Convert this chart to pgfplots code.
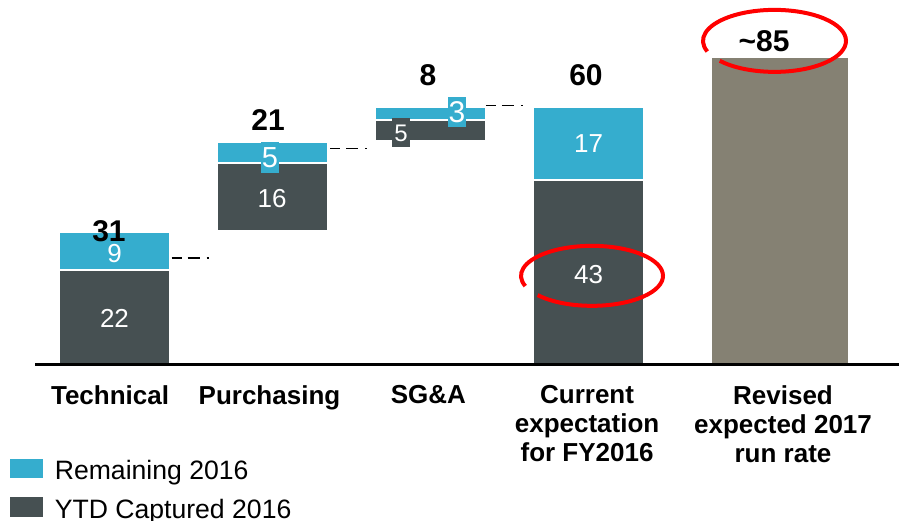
\documentclass[border=0pt]{standalone}
\usepackage{fontspec}
\setmainfont{Liberation Sans}
\usepackage{pgfplots}
\pgfplotsset{compat=1.18}
\definecolor{cblue}{HTML}{35ADCE}
\definecolor{cdark}{HTML}{465052}
\definecolor{ctaupe}{HTML}{858173}
\definecolor{cred}{HTML}{FF0000}
\begin{document}
\begin{tikzpicture}
\begin{axis}[
  axis on top,
  scale only axis, width=432pt, height=182pt,
  xmin=-0.503, xmax=4.965, ymin=0, ymax=85.05,
  ybar stacked, bar width=0.7025,
  axis x line*=bottom, axis y line=none,
  x axis line style={-, line width=1.5pt, black},
  clip=false,
  xtick={-0.028,0.981,1.987,2.991,4.231},
  xticklabels={Technical,Purchasing,SG\&A,{Current\\expectation\\for FY2016},{Revised\\expected 2017\\run rate}},
  major tick length=0pt,
  xticklabel style={font=\fontsize{13}{14.5}\selectfont\bfseries, align=center, anchor=north, inner sep=0pt, yshift=-10.5pt},
  ytick=\empty,
  legend style={at={(axis description cs:-0.0324,-0.2527)}, anchor=north west, draw=none, fill=none, inner sep=0pt,
    font=\fontsize{13.3}{15}\selectfont, row sep=4pt,
    /tikz/every even column/.append style={column sep=8.5pt}},
  legend cell align=left,
  reverse legend,
  legend image code/.code={\fill[#1] (0pt,-4pt) rectangle (18pt,7pt); \path (20.5pt,0pt);},
]
% invisible offsets
\addplot[draw=none, fill=none, forget plot] coordinates {(0,0) (1,31) (2,52) (3,0) (4.212,0)};
% YTD captured
\addplot[fill=cdark, draw=white, line width=1.2pt] coordinates {(0,22) (1,16) (2,5) (3,43) (4.212,0)};
% Remaining
\addplot[fill=cblue, draw=white, line width=1.2pt] coordinates {(0,9) (1,5) (2,3) (3,17) (4.212,0)};
% Revised run rate
\addplot[fill=ctaupe, draw=none, bar width=0.861, forget plot] coordinates {(0,0) (1,0) (2,0) (3,0) (4.212,71.5)};
\legend{YTD Captured 2016,Remaining 2016}

% connectors
\addplot[forget plot, sharp plot, black, line width=0.75pt, dash pattern=on 5pt off 3pt on 6pt off 3.5pt on 1pt, stack plots=false] coordinates {(0.362,24.8) (0.615,24.8)};
\addplot[forget plot, sharp plot, black, line width=0.75pt, dash pattern=on 5pt off 3pt on 6pt off 3.5pt on 1pt, stack plots=false] coordinates {(1.364,50.4) (1.634,50.4)};
\addplot[forget plot, sharp plot, black, line width=0.75pt, dash pattern=on 5pt off 3pt on 6pt off 3.5pt on 1pt, stack plots=false] coordinates {(2.351,60.35) (2.642,60.35)};

% anchor points for the annotations (drawn after the axis so they sit on top)
\coordinate (v22) at (axis cs:0,10.7);
\coordinate (v9) at (axis cs:0,25.7);
\coordinate (v16) at (axis cs:0.997,38.7);
\coordinate (v17) at (axis cs:3,51.4);
\coordinate (v43) at (axis cs:3,21);
\coordinate (p5) at (axis cs:0.984,48.2);
\coordinate (s3) at (axis cs:2.168,58.9);
\coordinate (s5) at (axis cs:1.813,54.0);
\coordinate (t31) at (axis cs:-0.035,31.1);
\coordinate (t21) at (axis cs:0.972,57.0);
\coordinate (t8) at (axis cs:1.984,67.6);
\coordinate (t60) at (axis cs:2.984,67.6);
\coordinate (t85) at (axis cs:4.111,75.4);
\coordinate (e43) at (axis cs:3.022,20.6);
\coordinate (e85) at (axis cs:4.177,75.5);
\end{axis}

\tikzset{inval/.style={text=white, font=\fontsize{13}{13}\selectfont, inner sep=0pt},
         tot/.style={font=\fontsize{15}{15}\selectfont\bfseries, inner sep=0pt}}
\node[inval] at (v22) {22};
\node[inval] at (v9) {9};
\node[inval] at (v16) {16};
\node[inval] at (v17) {17};
\node[inval] at (v43) {43};
\node[inval, font=\fontsize{14.5}{14.5}\selectfont, fill=cblue, minimum width=9pt, minimum height=15.5pt] at (p5) {5};
\node[inval, font=\fontsize{15}{15}\selectfont, fill=cblue, minimum width=9pt, minimum height=15pt] at (s3) {3};
\node[inval, font=\fontsize{12}{12}\selectfont, fill=cdark, minimum width=9pt, minimum height=14.5pt] at (s5) {5};

\node[tot] at (t31) {31};
\node[tot] at (t21) {21};
\node[tot] at (t8) {8};
\node[tot] at (t60) {60};
\node[tot] at (t85) {\char`\~85};

\draw[cred, line width=2pt] (e43) ++(220:35.5pt and 15pt) arc[start angle=220, end angle=560, x radius=35.5pt, y radius=15pt];
\draw[cred, line width=2pt] (e85) ++(220:35.75pt and 15.5pt) arc[start angle=220, end angle=560, x radius=35.75pt, y radius=15.5pt];

\pgfresetboundingbox
\path[use as bounding box] (-17.5pt,-78pt) rectangle (432pt,182pt);
\end{tikzpicture}
\end{document}
